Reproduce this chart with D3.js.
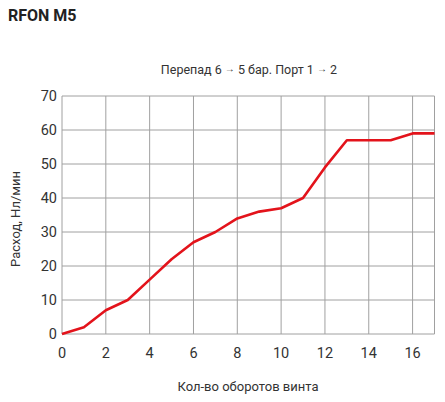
<!DOCTYPE html>
<html>
<head>
<meta charset="utf-8">
<script src="https://cdn.jsdelivr.net/npm/d3@7"></script>
<style>
  body { margin: 0; background: #fff; }
  text { font-family: Roboto, "Open Sans", sans-serif; fill: #333; }
</style>
</head>
<body>
<svg id="chart" width="445" height="402"></svg>
<script>
  // data
  var turns = [0, 1, 2, 3, 4, 5, 6, 7, 8, 9, 10, 11, 12, 13, 14, 15, 16, 17];
  var flow = [0, 2, 7, 10, 16, 22, 27, 30, 34, 36, 37, 40, 49, 57, 57, 57, 59, 59];
  var xTicks = [0, 2, 4, 6, 8, 10, 12, 14, 16];
  var yTicks = [0, 10, 20, 30, 40, 50, 60, 70];
  var subtitle = ["Перепад 6 ", "→", " 5 бар. Порт 1 ", "→", " 2"];

  var svg = d3.select("#chart");

  var x = d3.scaleLinear().domain([0, 17]).range([62, 434.5]);
  var y = d3.scaleLinear().domain([0, 70]).range([334, 96]);

  svg.append("text")
      .attr("x", 8)
      .attr("y", 21)
      .attr("font-size", 16)
      .attr("font-weight", "bold")
      .style("fill", "#222")
      .text("RFON M5");

  // arrows drawn a bit smaller and lifted, as in the original
  svg.append("text")
      .attr("x", 249)
      .attr("y", 74)
      .attr("text-anchor", "middle")
      .attr("font-size", 12.5)
    .selectAll("tspan")
    .data(subtitle)
    .enter().append("tspan")
      .attr("font-size", function(d) { return d === "→" ? 10 : null; })
      .attr("dy", function(d, i) { return d === "→" ? -2.5 : (i ? 2.5 : 0); })
      .text(function(d) { return d; });

  var grid = svg.append("g").attr("class", "grid");

  grid.selectAll("line.v")
    .data(xTicks.concat([17]))
    .enter().append("line")
      .attr("class", "v")
      .attr("x1", function(d) { return x(d); })
      .attr("x2", function(d) { return x(d); })
      .attr("y1", y(70))
      .attr("y2", y(0))
      .attr("stroke", "#a0a0a0")
      .attr("stroke-width", 1);

  grid.selectAll("line.h")
    .data(yTicks)
    .enter().append("line")
      .attr("class", "h")
      .attr("x1", x(0))
      .attr("x2", x(17))
      .attr("y1", function(d) { return y(d); })
      .attr("y2", function(d) { return y(d); })
      .attr("stroke", "#a0a0a0")
      .attr("stroke-width", 1);

  svg.append("g")
    .selectAll("text")
    .data(yTicks)
    .enter().append("text")
      .attr("x", 57)
      .attr("y", function(d) { return y(d) + 5; })
      .attr("text-anchor", "end")
      .attr("font-size", 14.5)
      .text(function(d) { return d; });

  svg.append("g")
    .selectAll("text")
    .data(xTicks)
    .enter().append("text")
      .attr("x", function(d) { return x(d); })
      .attr("y", 358)
      .attr("text-anchor", "middle")
      .attr("font-size", 14.5)
      .text(function(d) { return d; });

  var line = d3.line()
      .x(function(d, i) { return x(turns[i]); })
      .y(function(d) { return y(d); });

  svg.append("path")
      .datum(flow)
      .attr("d", line)
      .attr("fill", "none")
      .attr("stroke", "#e3131b")
      .attr("stroke-width", 2.6)
      .attr("stroke-linejoin", "round");

  svg.append("text")
      .attr("x", 248)
      .attr("y", 391)
      .attr("text-anchor", "middle")
      .attr("font-size", 13)
      .text("Кол-во оборотов винта");

  svg.append("text")
      .attr("transform", "translate(20,219) rotate(-90)")
      .attr("text-anchor", "middle")
      .attr("font-size", 13)
      .text("Расход, Нл/мин");
</script>
</body>
</html>
